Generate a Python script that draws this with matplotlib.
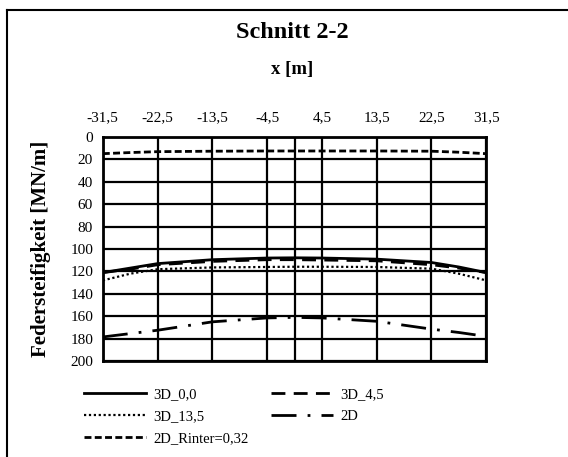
import matplotlib
matplotlib.use("Agg")
import matplotlib.pyplot as plt
from matplotlib.lines import Line2D

plt.rcParams['font.family'] = ['Liberation Serif', 'DejaVu Serif']

x = [-31.5, -27, -22.5, -13.5, -4.5, 0, 4.5, 13.5, 22.5, 27, 31.5]
s_3d_00 = [121, 117, 113, 109.5, 108, 107.8, 108, 109, 112, 116, 121]
s_3d_45 = [121, 118, 114, 111, 109.5, 109.5, 109.8, 110.5, 114, 117, 121]
s_3d_135 = [128, 122, 118, 116.4, 116, 115.8, 115.8, 116, 117.5, 122, 128]
s_2d = [178.5, 175.5, 172.5, 165, 161.5, 161, 161.5, 164.5, 171.5, 174.5, 178]
s_2d_rinter = [14.8, 13.8, 13, 12.6, 12.4, 12.4, 12.4, 12.4, 12.6, 13.5, 14.8]

xticks = [-31.5, -22.5, -13.5, -4.5, 4.5, 13.5, 22.5, 31.5]
xticklabels = ['-31,5', '-22,5', '-13,5', '-4,5', '4,5', '13,5', '22,5', '31,5']
yticks = [0, 20, 40, 60, 80, 100, 120, 140, 160, 180, 200]

fig = plt.figure(figsize=(5.68, 4.57), dpi=100)
ax = fig.add_axes([0.181, 0.210, 0.675, 0.490])

l1, = ax.plot(x, s_3d_00, color='black', lw=2.0, ls='-', label='3D_0,0')
l2, = ax.plot(x, s_3d_45, color='black', lw=2.0, ls=(0, (5, 3)), label='3D_4,5')
l3, = ax.plot(x, s_3d_135, color='black', lw=1.6, ls=(0, (1, 1.2)), label='3D_13,5')
l4, = ax.plot(x, s_2d, color='black', lw=2.0, ls=(0, (9, 4, 1, 4)), label='2D')
l5, = ax.plot(x, s_2d_rinter, color='black', lw=2.0, ls=(0, (2.5, 1.2)), label='2D_Rinter=0,32')

ax.set_xlim(-31.5, 31.5)
ax.set_ylim(200, 0)
ax.set_xticks(xticks)
ax.set_xticklabels(xticklabels)
ax.set_xticks([0], minor=True)
ax.set_yticks(yticks)
ax.xaxis.tick_top()
ax.tick_params(axis='both', which='both', length=0, labelsize=11)
ax.tick_params(axis='x', pad=9)
ax.tick_params(axis='y', pad=7)
ax.grid(True, which='both', color='black', lw=1.6)
ax.set_axisbelow(True)
for sp in ax.spines.values():
    sp.set_linewidth(2)

ax.set_ylabel('Federsteifigkeit [MN/m]', fontsize=15, fontweight='bold', labelpad=14)

fig.text(0.515, 0.928, 'Schnitt 2-2', ha='center', va='center', fontsize=17.5, fontweight='bold')
fig.text(0.515, 0.848, 'x [m]', ha='center', va='center', fontsize=13.5, fontweight='bold')

handles = [l1, l3, l5, l2, l4]
leg = fig.legend(handles=handles, labels=[h.get_label() for h in handles],
                 loc='upper left', bbox_to_anchor=(0.148, 0.152), ncol=2, frameon=False,
                 fontsize=10.5, handlelength=4.25, columnspacing=1.55, labelspacing=0.6,
                 handletextpad=0.5, borderaxespad=0, borderpad=0)

# chart border
fig.add_artist(Line2D([0.012, 0.012], [0.0, 0.978], transform=fig.transFigure, color='black', lw=1.5))
fig.add_artist(Line2D([0.012, 1.0], [0.978, 0.978], transform=fig.transFigure, color='black', lw=1.5))

fig.savefig('out.png', dpi=100)
